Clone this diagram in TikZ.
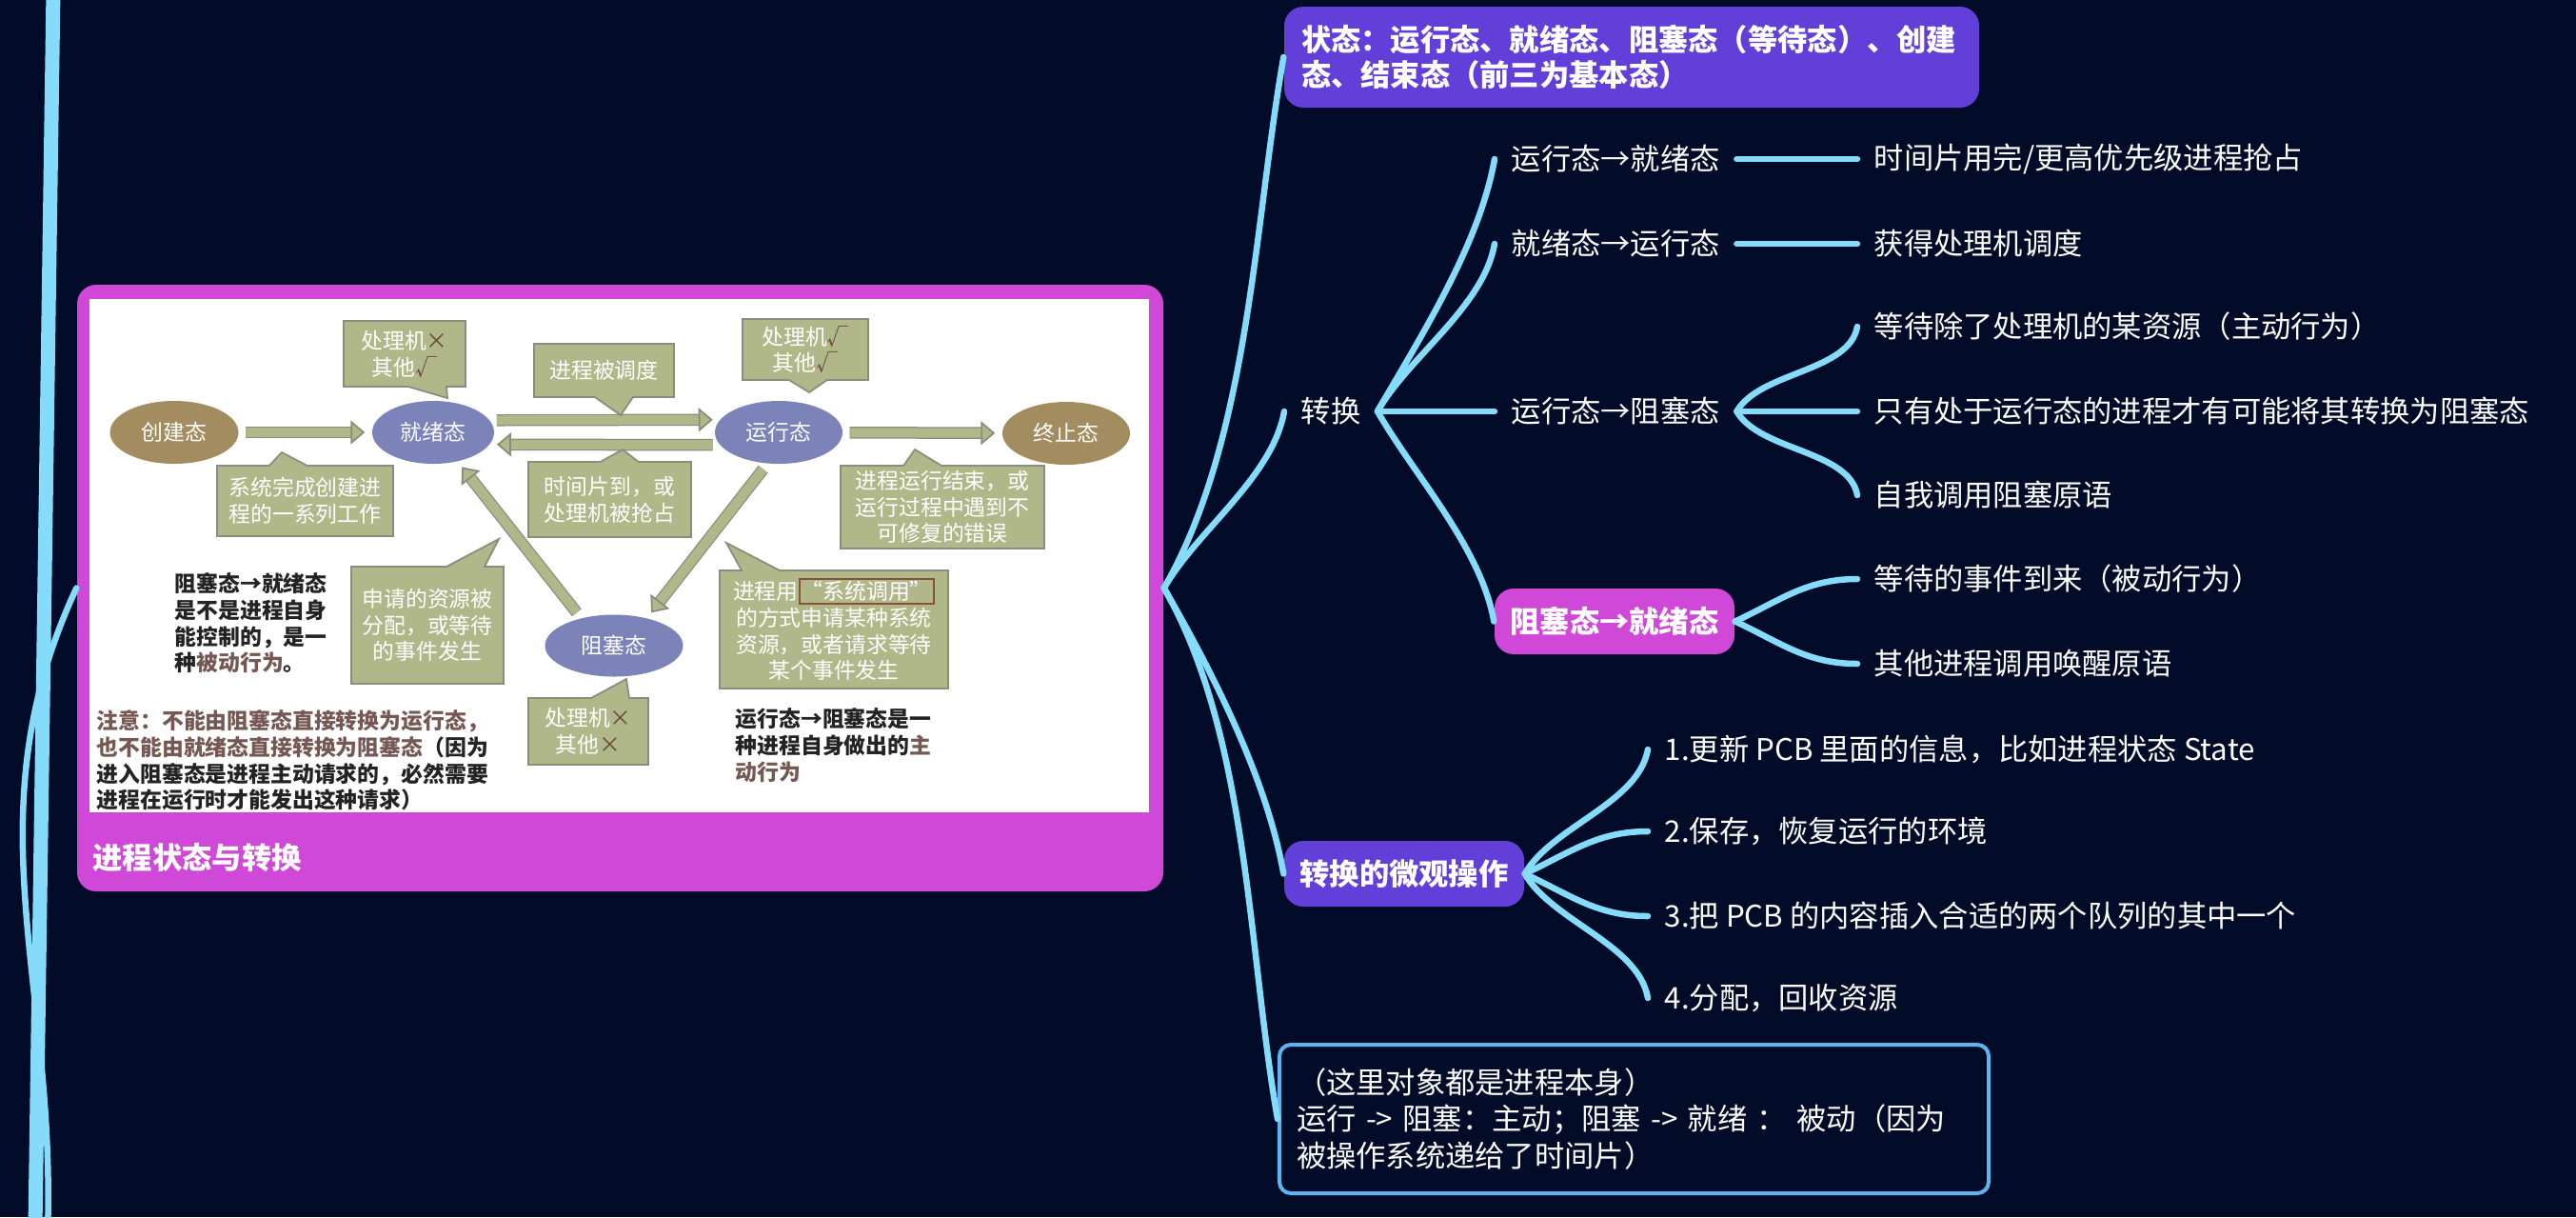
\documentclass[tikz,border=0pt]{standalone}
\usepackage{fontspec}
\setmainfont{Noto Sans CJK SC}
\usepackage{tikz}
\usetikzlibrary{shapes.geometric, shapes.callouts, arrows.meta}

\definecolor{bgnavy}{RGB}{2,12,40}
\definecolor{linkblue}{RGB}{133,219,250}
\definecolor{boxmagenta}{RGB}{207,72,216}
\definecolor{boxpurple}{RGB}{98,63,217}
\definecolor{noteblue}{RGB}{92,180,240}
\definecolor{olivefill}{RGB}{176,184,138}
\definecolor{oliveedge}{RGB}{138,140,125}
\definecolor{stateblue}{RGB}{123,131,184}
\definecolor{statebrown}{RGB}{163,140,95}
\definecolor{marktext}{RGB}{105,72,60}
\definecolor{hinttext}{RGB}{118,88,82}
\definecolor{framebrown}{RGB}{140,80,50}
\definecolor{slideink}{RGB}{35,35,35}

\begin{document}
\begin{tikzpicture}[
    mmtext/.style={anchor=west, text=white, inner xsep=0.17cm, inner ysep=0.06cm, font=\fontsize{8.9}{10.5}\selectfont},
    mmbox/.style={rectangle, rounded corners=0.2cm, text=white, minimum width=2.52cm, minimum height=0.69cm, inner sep=0.05cm, font=\fontsize{8.9}{10.5}\selectfont\bfseries},
    link/.style={draw=linkblue, line width=0.065cm, line cap=round},
    goup/.style={out=60, in=-100, looseness=0.8},
    godown/.style={out=-60, in=100, looseness=0.8},
    goupnear/.style={out=25, in=180},
    godownnear/.style={out=-25, in=180},
    slidetext/.style={font=\fontsize{6.5}{7.9}\selectfont},
    slidenote/.style={anchor=north west, align=left, inner sep=0pt, text=slideink, font=\fontsize{6.5}{7.9}\selectfont\bfseries},
    stateoval/.style={ellipse, slidetext, text=white, minimum width=1.34cm, minimum height=0.66cm, inner sep=0pt},
    bubble/.style={rectangle callout, slidetext, fill=olivefill, draw=oliveedge, line width=0.5pt, text=white, align=center, inner sep=0pt, callout pointer width=0.4cm},
    blkarrow/.style={draw=olivefill, line width=0.1cm, shorten <=0.07cm, shorten >=0.07cm, -{Triangle[length=0.15cm, width=0.25cm, color=oliveedge, fill=olivefill, line width=0.5pt]}, preaction={draw=oliveedge, line width=0.125cm, -, shorten >=0.21cm}}
]
    \useasboundingbox (0,0) rectangle (27.06,-12.78);
    \fill[bgnavy] (0,0) rectangle (27.06,-12.78);

    \coordinate (trunktop) at (0.56,0.10);
    \coordinate (trunkbot) at (0.37,-12.90);
    \coordinate (mainroot) at (0.50,-12.95);
    \draw[link, line width=0.15cm] (trunktop) -- (trunkbot);

    \node (main) [rectangle, rounded corners=0.2cm, fill=boxmagenta, minimum width=11.41cm, minimum height=6.37cm] at (6.515,-6.175) {};
    \node (slide) [fill=white, minimum width=11.13cm, minimum height=5.39cm, inner sep=0pt] at (6.505,-5.835) {};
    \node (title) [anchor=west, text=white, inner sep=0pt, font=\fontsize{8.9}{10}\selectfont\bfseries] at (0.97,-9.00) {进程状态与转换};

    \node (cj) [stateoval, fill=statebrown, minimum width=1.35cm] at (1.83,-4.54) {创建态};
    \node (jx) [stateoval, fill=stateblue, minimum width=1.28cm] at (4.55,-4.54) {就绪态};
    \node (yx) [stateoval, fill=stateblue] at (8.18,-4.54) {运行态};
    \node (zz) [stateoval, fill=statebrown] at (11.20,-4.55) {终止态};
    \node (zs) [stateoval, fill=stateblue, minimum width=1.45cm, minimum height=0.65cm] at (6.45,-6.78) {阻塞态};

    \draw[blkarrow] (cj) -- (jx);
    \draw[blkarrow] (jx.12) -- (yx.168);
    \draw[blkarrow] (yx.-168) -- (jx.-12);
    \draw[blkarrow] (yx) -- (zz);
    \draw[blkarrow] (zs.140) -- (jx.-50);
    \draw[blkarrow] (yx.-110) -- (zs.40);

    \node (pjx) [bubble, minimum width=1.28cm, minimum height=0.69cm, callout absolute pointer={(4.70,-4.18)}] at (4.25,-3.715) {处理机{\color{marktext}×}\\其他{\color{marktext}√}};
    \node (pcj) [bubble, minimum width=1.85cm, minimum height=0.74cm, callout absolute pointer={(2.96,-4.75)}] at (3.205,-5.26) {系统完成创建进\\程的一系列工作};
    \node (pdd) [bubble, minimum width=1.47cm, minimum height=0.56cm, callout absolute pointer={(6.52,-4.36)}] at (6.345,-3.89) {进程被调度};
    \node (psj) [bubble, minimum width=1.71cm, minimum height=0.79cm, callout absolute pointer={(6.54,-4.72)}] at (6.405,-5.245) {时间片到，或\\处理机被抢占};
    \node (pyx) [bubble, minimum width=1.32cm, minimum height=0.64cm, callout absolute pointer={(8.50,-4.12)}] at (8.46,-3.67) {处理机{\color{marktext}√}\\其他{\color{marktext}√}};
    \node (pzz) [bubble, minimum width=2.14cm, minimum height=0.87cm, callout absolute pointer={(9.61,-4.72)}] at (9.90,-5.325) {进程运行结束，或\\运行过程中遇到不\\可修复的错误};
    \node (pzs) [bubble, minimum width=1.26cm, minimum height=0.70cm, callout absolute pointer={(6.58,-7.13)}] at (6.18,-7.68) {处理机{\color{marktext}×}\\其他{\color{marktext}×}};
    \node (pzy) [bubble, minimum width=1.60cm, minimum height=1.23cm, callout absolute pointer={(5.24,-5.66)}] at (4.49,-6.565) {申请的资源被\\分配，或等待\\的事件发生};
    \node (pxt) [bubble, minimum width=2.40cm, minimum height=1.24cm, callout absolute pointer={(7.63,-5.70)}] at (8.76,-6.61) {进程用{\color{framebrown}\fboxsep=0.3pt\fboxrule=0.6pt\fbox{\color{white}“系统调用”}}\\的方式申请某种系统\\资源，或者请求等待\\某个事件发生};

    \node (ta) [slidenote] at (1.83,-6.01) {阻塞态→就绪态\\是不是进程自身\\能控制的，是一\\种{\color{hinttext}被动行为}。};
    \node (tb) [slidenote] at (7.72,-7.43) {运行态→阻塞态是一\\种进程自身做出的{\color{hinttext}主}\\{\color{hinttext}动行为}};
    \node (tc) [slidenote] at (1.01,-7.45) {{\color{hinttext}注意：不能由阻塞态直接转换为运行态，}\\{\color{hinttext}也不能由就绪态直接转换为阻塞态}（因为\\进入阻塞态是进程主动请求的，必然需要\\进程在运行时才能发出这种请求）};

    \node (hdr) [rectangle, rounded corners=0.2cm, fill=boxpurple, text=white, minimum height=1.06cm, text width=6.94cm, inner xsep=0.18cm, align=left, font=\fontsize{8.9}{10.5}\selectfont\bfseries] at (17.14,-0.60) {状态：运行态、就绪态、阻塞态（等待态）、创建\\态、结束态（前三为基本态）};
    \node (zh) [mmtext] at (13.49,-4.32) {转换};
    \node (a1) [mmtext] at (15.70,-1.67) {运行态→就绪态};
    \node (a2) [mmtext] at (15.70,-2.56) {就绪态→运行态};
    \node (a3) [mmtext] at (15.70,-4.32) {运行态→阻塞态};
    \node (a4) [mmbox, fill=boxmagenta] at (16.96,-6.525) {阻塞态→就绪态};
    \node (b1) [mmtext] at (19.51,-1.67) {时间片用完/更高优先级进程抢占};
    \node (b2) [mmtext] at (19.51,-2.56) {获得处理机调度};
    \node (c1) [mmtext] at (19.51,-3.43) {等待除了处理机的某资源（主动行为）};
    \node (c2) [mmtext] at (19.51,-4.32) {只有处于运行态的进程才有可能将其转换为阻塞态};
    \node (c3) [mmtext] at (19.51,-5.20) {自我调用阻塞原语};
    \node (d1) [mmtext] at (19.51,-6.08) {等待的事件到来（被动行为）};
    \node (d2) [mmtext] at (19.51,-6.97) {其他进程调用唤醒原语};
    \node (wg) [mmbox, fill=boxpurple] at (14.75,-9.175) {转换的微观操作};
    \node (e1) [mmtext] at (17.31,-7.87) {1.更新 PCB 里面的信息，比如进程状态 State};
    \node (e2) [mmtext] at (17.31,-8.73) {2.保存，恢复运行的环境};
    \node (e3) [mmtext] at (17.31,-9.62) {3.把 PCB 的内容插入合适的两个队列的其中一个};
    \node (e4) [mmtext] at (17.31,-10.48) {4.分配，回收资源};
    \node (nt) [rectangle, rounded corners=0.12cm, draw=noteblue, line width=0.04cm, text=white, minimum width=7.45cm, minimum height=1.56cm, text width=7.09cm, inner xsep=0.18cm, align=left, font=\fontsize{8.9}{11}\selectfont] at (17.165,-11.75) {（这里对象都是进程本身）\\运行 -> 阻塞：主动；阻塞 -> 就绪 ： 被动（因为\\被操作系统递给了时间片）};

    \draw[link] (mainroot) to[out=88, in=-115] (main.west);
    \draw[link] (main.east) to[goup] (hdr.west);
    \draw[link] (main.east) to[goup] (zh.west);
    \draw[link] (main.east) to[godown] (wg.west);
    \draw[link] (main.east) to[godown] (nt.west);
    \draw[link] (zh.east) to[goup] (a1.west);
    \draw[link] (zh.east) to[goup] (a2.west);
    \draw[link] (zh.east) -- (a3.west);
    \draw[link] (zh.east) to[godown] (a4.west);
    \draw[link] (a1.east) -- (b1.west);
    \draw[link] (a2.east) -- (b2.west);
    \draw[link] (a3.east) to[goup] (c1.west);
    \draw[link] (a3.east) -- (c2.west);
    \draw[link] (a3.east) to[godown] (c3.west);
    \draw[link] (a4.east) to[goupnear] (d1.west);
    \draw[link] (a4.east) to[godownnear] (d2.west);
    \draw[link] (wg.east) to[goup] (e1.west);
    \draw[link] (wg.east) to[goupnear] (e2.west);
    \draw[link] (wg.east) to[godownnear] (e3.west);
    \draw[link] (wg.east) to[godown] (e4.west);
\end{tikzpicture}
\end{document}
